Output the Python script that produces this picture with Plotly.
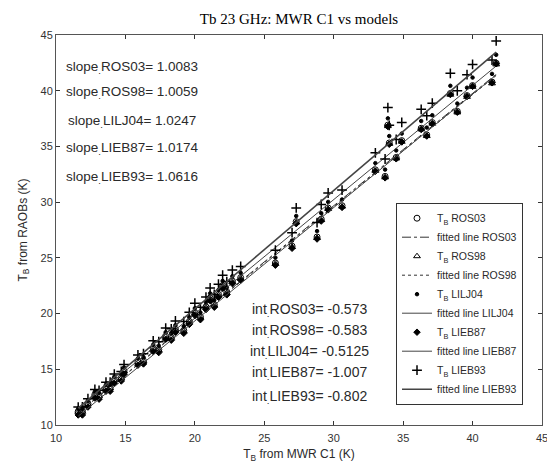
import numpy as np
import plotly.graph_objects as go

# Tb at 23 GHz measured by the MWR (C1 channel)
tb_mwr = [11.6, 11.9, 12.3, 12.8, 13.1, 13.6, 13.9, 14.2, 14.7, 14.9,
          15.9, 16.3, 17.0, 17.4, 17.9, 18.3, 18.6, 19.2, 19.6, 20.0,
          20.4, 20.8, 21.1, 21.4, 21.7, 22.0, 22.3, 22.7, 23.3, 25.8,
          27.0, 27.3, 28.8, 29.1, 29.6, 30.6, 33.0, 33.7, 33.9, 34.0,
          34.5, 34.9, 36.3, 36.7, 37.1, 38.4, 38.9, 39.6, 40.0, 41.4, 41.7]

# Tb computed from radiosonde profiles with each absorption model
tb_ros03 = [11.22, 11.23, 11.93, 12.73, 12.64, 13.34, 13.34, 14.05, 14.25, 14.85,
            15.66, 15.76, 16.87, 16.77, 17.98, 17.88, 18.58, 18.49, 19.29, 20.09,
            19.70, 20.60, 21.40, 20.80, 21.71, 22.51, 21.91, 22.92, 23.22, 24.54,
            26.05, 28.25, 26.87, 28.47, 29.47, 29.68, 32.90, 32.31, 36.91, 35.31,
            34.01, 35.52, 36.63, 36.03, 37.14, 39.75, 38.15, 39.56, 40.46, 40.77, 42.47]
tb_ros98 = [11.19, 11.19, 11.89, 12.69, 12.59, 13.30, 13.30, 14.00, 14.20, 14.81,
            15.61, 15.71, 16.82, 16.72, 17.92, 17.83, 18.53, 18.43, 19.23, 20.04,
            19.64, 20.54, 21.34, 20.74, 21.65, 22.45, 21.85, 22.85, 23.15, 24.47,
            25.98, 28.18, 26.79, 28.39, 29.39, 29.60, 32.81, 32.22, 36.82, 35.22,
            33.92, 35.42, 36.53, 35.93, 37.04, 39.64, 38.05, 39.45, 40.35, 40.66, 42.36]
tb_lilj04 = [11.47, 11.48, 12.19, 13.00, 12.91, 13.62, 13.63, 14.34, 14.55, 15.16,
             15.98, 16.09, 17.21, 17.12, 18.33, 18.24, 18.95, 18.86, 19.67, 20.48,
             20.09, 21.00, 21.81, 21.22, 22.12, 22.93, 22.34, 23.35, 23.66, 25.02,
             26.55, 28.76, 27.40, 29.01, 30.02, 30.24, 33.50, 32.92, 37.52, 35.93,
             34.64, 36.15, 37.28, 36.69, 37.80, 40.44, 38.85, 40.27, 41.18, 41.51, 43.22]
tb_lieb87 = [10.90, 10.90, 11.61, 12.42, 12.32, 13.03, 13.03, 13.74, 13.95, 14.55,
             15.37, 15.48, 16.59, 16.50, 17.70, 17.61, 18.32, 18.23, 19.03, 19.84,
             19.45, 20.36, 21.16, 20.57, 21.47, 22.28, 21.68, 22.69, 23.00, 24.34,
             25.86, 28.07, 26.69, 28.30, 29.31, 29.53, 32.77, 32.18, 36.78, 35.19,
             33.89, 35.40, 36.52, 35.93, 37.04, 39.66, 38.07, 39.48, 40.39, 40.71, 42.42]
tb_lieb93 = [11.61, 11.63, 12.36, 13.19, 13.11, 13.84, 13.85, 14.57, 14.80, 15.42,
             16.28, 16.40, 17.55, 17.47, 18.70, 18.63, 19.34, 19.28, 20.11, 20.93,
             20.56, 21.48, 22.30, 21.72, 22.64, 23.45, 22.87, 23.90, 24.23, 25.69,
             27.26, 29.48, 28.17, 29.79, 30.82, 31.08, 34.43, 33.87, 38.49, 36.89,
             35.62, 37.15, 38.33, 37.76, 38.88, 41.56, 39.99, 41.44, 42.36, 42.75, 44.47]

models = ["ROS03", "ROS98", "LILJ04", "LIEB87", "LIEB93"]
slopes = [1.0083, 1.0059, 1.0247, 1.0174, 1.0616]
intercepts = [-0.573, -0.583, -0.5125, -1.007, -0.802]
slope_labels = ["1.0083", "1.0059", "1.0247", "1.0174", "1.0616"]
int_labels = ["-0.573", "-0.583", "-0.5125", "-1.007", "-0.802"]
tick_values = [10, 15, 20, 25, 30, 35, 40, 45]

series = [tb_ros03, tb_ros98, tb_lilj04, tb_lieb87, tb_lieb93]
symbols = ["circle-open", "triangle-up-open", "circle", "diamond", "cross-thin-open"]
msizes = [6, 6, 3.5, 5, 7]
mlw = [1, 1, 1, 1, 1.5]
dashes = ["dashdot", "dot", "solid", "solid", "solid"]
lwidths = [1, 1, 1, 1, 1.6]
lcolors = ["#333", "#333", "#444", "#444", "#444"]

fig = go.Figure()
x_fit = np.array([min(tb_mwr), max(tb_mwr)])
for name, y, sym, ms, mw, dash, lw, lc, a, b in zip(models, series, symbols, msizes, mlw,
                                                    dashes, lwidths, lcolors, slopes, intercepts):
    fig.add_trace(go.Scatter(
        x=tb_mwr, y=y, mode="markers", name="T<sub>B</sub> " + name,
        marker=dict(symbol=sym, size=ms, color="black",
                    line=dict(color="black", width=mw))))
    fig.add_trace(go.Scatter(
        x=x_fit, y=a * x_fit + b, mode="lines", name="fitted line " + name,
        line=dict(color=lc, width=lw, dash=dash)))

slope_font = dict(family="Liberation Sans, Arial", size=13.5, color="#2a2a2a")
int_font = dict(family="Liberation Sans, Arial", size=14, color="#2a2a2a")
slope_y = [42.05, 39.8, 37.2, 34.78, 32.17]
for name, lab, yy in zip(models, slope_labels, slope_y):
    fig.add_annotation(x=15.5, y=yy, xref="x", yref="y", showarrow=False,
                       text="slope<sub>.</sub>" + name + "= " + lab, font=slope_font,
                       xanchor="center", yanchor="middle")
int_y = [20.32, 18.44, 16.55, 14.67, 12.51]
for name, lab, yy in zip(models, int_labels, int_y):
    fig.add_annotation(x=28.25, y=yy, xref="x", yref="y", showarrow=False,
                       text="int<sub>.</sub>" + name + "= " + lab, font=int_font,
                       xanchor="center", yanchor="middle")

axis_common = dict(tickmode="array", tickvals=tick_values,
                   ticktext=[str(v) for v in tick_values],
                   ticks="inside", ticklen=4, ticklabeloverflow="allow",
                   tickcolor="#333", mirror="allticks", showline=True,
                   linecolor="#555", linewidth=1, showgrid=False, zeroline=False,
                   tickfont=dict(family="Liberation Sans, Arial", size=11, color="#333"))

fig.update_layout(
    width=547, height=470,
    margin=dict(l=56, r=5, t=35, b=45, autoexpand=False),
    paper_bgcolor="white", plot_bgcolor="white",
    title=dict(text="Tb 23 GHz: MWR C1 vs models", x=0.5, xref="paper",
               y=1 - 19 / 470, yref="container", yanchor="middle",
               font=dict(family="Liberation Serif, Times New Roman", size=15, color="black")),
    xaxis=dict(axis_common, range=[10, 45], ticklabelstandoff=3,
               title=dict(text="T<sub>B</sub> from MWR C1 (K)", standoff=6,
               font=dict(family="Liberation Sans, Arial", size=12, color="#2a2a2a"))),
    yaxis=dict(axis_common, range=[10, 45],
               title=dict(text="T<sub>B</sub> from RAOBs (K)", standoff=10,
               font=dict(family="Liberation Sans, Arial", size=12, color="#2a2a2a"))),
    legend=dict(x=0.6996, y=0.57, xanchor="left", yanchor="top",
                bgcolor="white", bordercolor="#333", borderwidth=1,
                itemwidth=30, tracegroupgap=0,
                font=dict(family="Liberation Sans, Arial", size=10.5, color="#2a2a2a")),
    showlegend=True,
)

fig.write_html("out.html")
